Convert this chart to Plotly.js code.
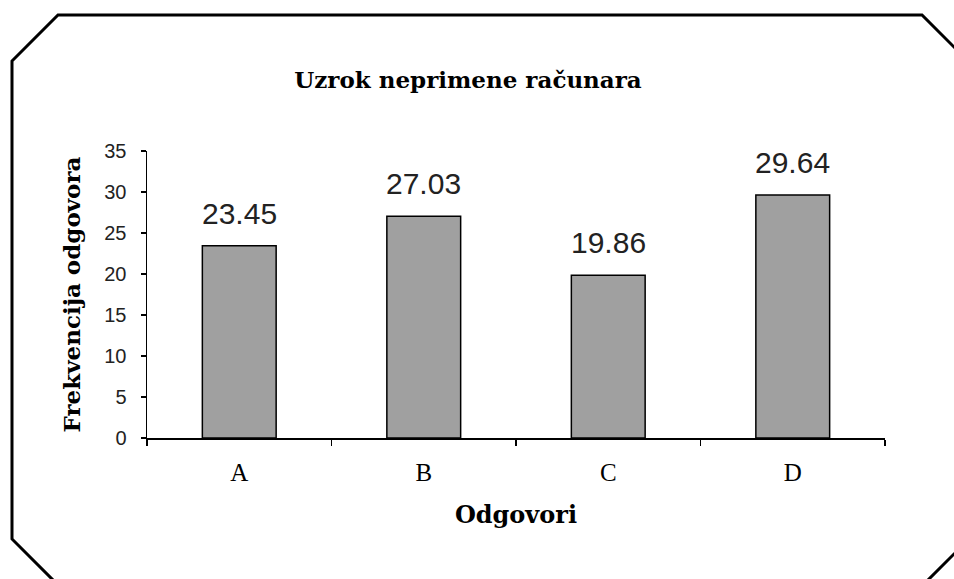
<!DOCTYPE html>
<html>
<head>
<meta charset="utf-8">
<script src="https://cdn.plot.ly/plotly-3.0.1.min.js"></script>
<style>html,body{margin:0;padding:0;background:#fff;}#chart{width:954px;height:579px;}</style>
</head>
<body>
<div id="chart"></div>
<script>
const categories = ["A", "B", "C", "D"];
const values = [23.45, 27.03, 19.86, 29.64];
const labels = ["23.45", "27.03", "19.86", "29.64"];
const yTicks = [0, 5, 10, 15, 20, 25, 30, 35];

const W = 954, H = 579;
const L = 147, R = 885, T = 151, B = 438;
const pw = R - L, ph = B - T;
const px = x => (x - L) / pw;
const py = y => (B - y) / ph;

const border = [[12,61],[58,15],[922,15],[970,63],[970,538],[908,600],[73,600],[12,539]];
const path = border.map((p,i)=> (i?'L':'M') + px(p[0]).toFixed(5) + ',' + py(p[1]).toFixed(5)).join(' ') + ' Z';

const trace = {
  type: 'bar',
  x: categories,
  y: values,
  width: 0.4,
  marker: {color: '#a0a0a0', line: {color: '#000', width: 1.5}},
  hoverinfo: 'none'
};

const annotations = categories.map((c, i) => ({
  x: c, y: values[i], xref: 'x', yref: 'y',
  text: labels[i], showarrow: false,
  yanchor: 'bottom', yshift: 14,
  font: {family: 'Liberation Sans, Arial, sans-serif', size: 30, color: '#222'}
}));

const layout = {
  width: W, height: H,
  margin: {l: L, r: W - R, t: T, b: H - B, pad: 0},
  paper_bgcolor: '#fff', plot_bgcolor: '#fff',
  showlegend: false,
  title: {
    text: 'Uzrok neprimene računara',
    x: 468 / W, xanchor: 'center', xref: 'container',
    y: 1 - 80 / H, yanchor: 'middle', yref: 'container',
    font: {family: 'DejaVu Serif, serif', size: 23, color: '#000', weight: 'bold'}
  },
  xaxis: {
    type: 'category', range: [-0.5, 3.5],
    showline: true, linecolor: '#000', linewidth: 1.5,
    ticks: 'outside', tickson: 'boundaries', ticklen: 6, tickwidth: 1.5, tickcolor: '#000',
    showgrid: false, zeroline: false,
    ticklabelstandoff: 11,
    tickfont: {family: 'Liberation Serif, serif', size: 25, color: '#000'},
    title: {text: 'Odgovori', standoff: 21,
      font: {family: 'DejaVu Serif, serif', size: 24, color: '#000', weight: 'bold'}}
  },
  yaxis: {
    range: [0, 35], tickvals: yTicks, ticktext: yTicks.map(String),
    showline: true, linecolor: '#000', linewidth: 1.5,
    ticks: 'outside', ticklen: 5, tickwidth: 1.5, tickcolor: '#000',
    showgrid: false, zeroline: false,
    ticklabelstandoff: 10,
    tickfont: {family: 'Liberation Sans, Arial, sans-serif', size: 20, color: '#222'},
    title: {text: 'Frekvencija odgovora', standoff: 17,
      font: {family: 'DejaVu Serif, serif', size: 23, color: '#000', weight: 'bold'}}
  },
  shapes: [{
    type: 'path', xref: 'paper', yref: 'paper', path: path,
    line: {color: '#000', width: 3}, fillcolor: 'rgba(0,0,0,0)', layer: 'below'
  }],
  annotations: annotations
};

Plotly.newPlot('chart', [trace], layout, {staticPlot: true, displayModeBar: false});
</script>
</body>
</html>
